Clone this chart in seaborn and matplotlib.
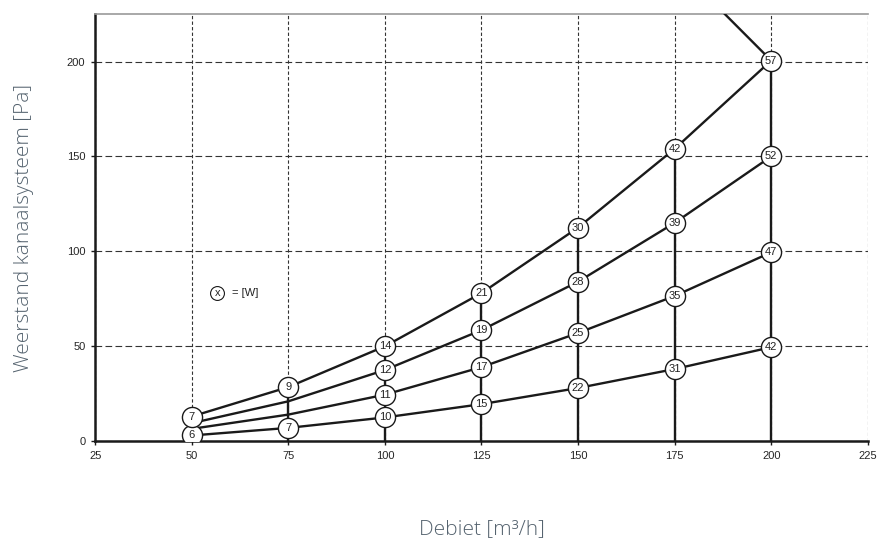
import numpy as np
import pandas as pd
import matplotlib
matplotlib.use("Agg")
import matplotlib.pyplot as plt
import seaborn as sns

# Debiet in m3/h
debiet = [50, 75, 100, 125, 150, 175, 200]

# Weerstand per systeemcurve [Pa]
curve_a = [3, 7, 12.5, 19.5, 28, 38, 49.5]
curve_b = [6.5, 14, 24.5, 39, 57, 76.5, 99.5]
curve_c = [9.5, 21, 37.5, 58.5, 84, 115, 150]
curve_d = [13, 28.5, 50, 78, 112.5, 154, 200.5]

# Vermogen [W] bij de punten (None = geen label)
watt_a = [6, 7, 10, 15, 22, 31, 42]
watt_b = [None, None, 11, 17, 25, 35, 47]
watt_c = [None, None, 12, 19, 28, 39, 52]
watt_d = [7, 9, 14, 21, 30, 42, 57]

# max ventilatorlijn
fan_q = [200, 187.5]
fan_p = [200.5, 226]

x_ticks = [25, 50, 75, 100, 125, 150, 175, 200, 225]
y_ticks = [0, 50, 100, 150, 200]

sns.set_theme(style="white")
plt.rcParams['font.family'] = ['Liberation Sans', 'DejaVu Sans']

rows = []
for name, vals in [('a', curve_a), ('b', curve_b), ('c', curve_c), ('d', curve_d)]:
    for q, p in zip(debiet, vals):
        rows.append({'curve': name, 'debiet': q, 'druk': p})
df = pd.DataFrame(rows)

fig = plt.figure(figsize=(8.81, 5.4), dpi=100)
ax = fig.add_axes([0.108, 0.183, 0.877, 0.791])

# grid
ax.set_xticks(x_ticks)
ax.set_yticks(y_ticks)
ax.grid(axis='y', color='#333333', linewidth=0.8, linestyle=(0, (6, 3)))
ax.grid(axis='x', color='#333333', linewidth=0.8, linestyle=(0, (3, 2)))

# verticale lijnen per debiet
ax.vlines(debiet, 0, curve_d, color='#1a1a1a', linewidth=1.7, zorder=2)

sns.lineplot(data=df, x='debiet', y='druk', hue='curve',
             palette=['#1a1a1a'] * 4, linewidth=1.7, legend=False, ax=ax,
             zorder=3)
ax.plot(fan_q, fan_p, color='#1a1a1a', linewidth=1.7, zorder=3)

for vals, watts in [(curve_a, watt_a), (curve_b, watt_b), (curve_c, watt_c), (curve_d, watt_d)]:
    for q, p, w in zip(debiet, vals, watts):
        if w is None:
            continue
        ax.plot(q, p, marker='o', markersize=14.5, markerfacecolor='white',
                markeredgecolor='#1a1a1a', markeredgewidth=1.0, zorder=5)
        ax.text(q, p, str(w), ha='center', va='center', fontsize=8,
                color='#222222', zorder=6)

# legenda
ax.plot(56.6, 78, marker='o', markersize=10, markerfacecolor='white',
        markeredgecolor='#1a1a1a', markeredgewidth=0.8, zorder=5)
ax.text(56.6, 78, 'x', ha='center', va='center', fontsize=8, zorder=6)
ax.text(60.3, 78, '= [W]', ha='left', va='center', fontsize=8, color='#222222')

ax.set_xlim(25, 225)
ax.set_ylim(0, 225)

for s in ['left', 'bottom']:
    ax.spines[s].set_color('#1a1a1a')
    ax.spines[s].set_linewidth(1.8)
ax.spines['top'].set_color('#999999')
ax.spines['top'].set_linewidth(1.2)
ax.spines['right'].set_visible(False)

ax.tick_params(axis='both', which='major', labelsize=8, length=3, width=1,
               color='#1a1a1a', direction='out', pad=4, left=True, bottom=True)

lab_font = dict(family=['Open Sans', 'DejaVu Sans'], fontsize=15,
                color='#55636f', fontweight='light')
ax.set_xlabel('Debiet [m³/h]', labelpad=42, **lab_font)
ax.set_ylabel('Weerstand kanaalsysteem [Pa]', labelpad=24, **lab_font)

fig.savefig('out.png', dpi=100)
